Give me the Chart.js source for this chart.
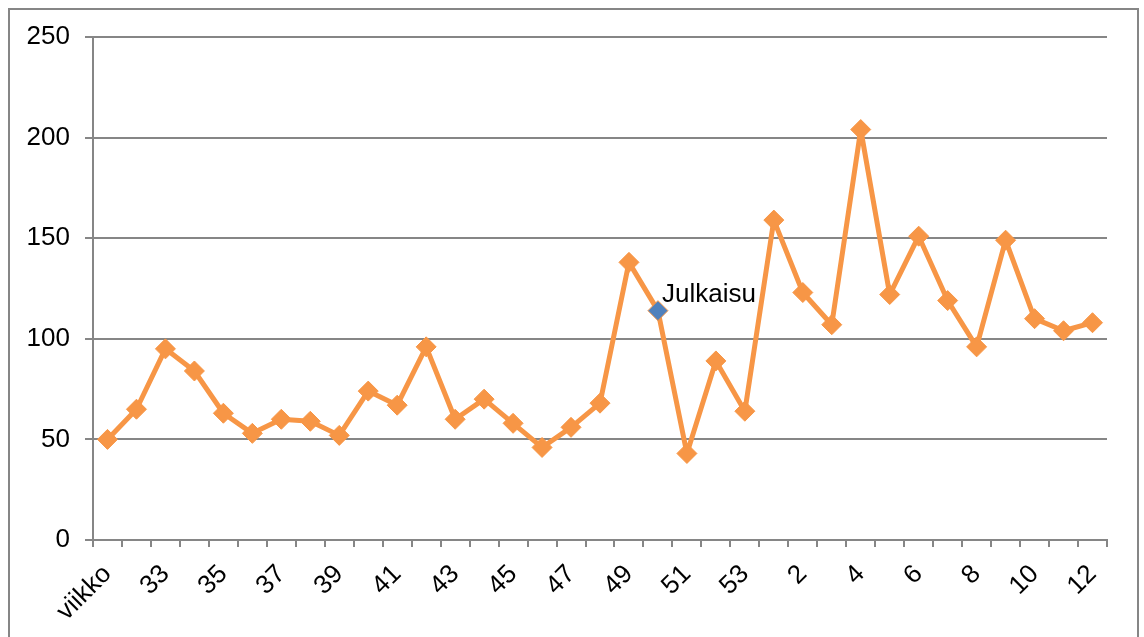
<!DOCTYPE html>
<html>
<head>
<meta charset="utf-8">
<script src="https://cdn.jsdelivr.net/npm/chart.js@4.4.1/dist/chart.umd.min.js"></script>
<style>
  html, body { margin: 0; padding: 0; background: #ffffff; overflow: hidden; }
  #frame { position: absolute; left: 8px; top: 8px; width: 1131px; height: 700px; border: 2px solid #868686; box-sizing: border-box; }
  #wrap { position: absolute; left: 0; top: 0; width: 1144px; height: 637px; }
</style>
</head>
<body>
<div id="frame"></div>
<div id="wrap"><canvas id="c" width="1144" height="637"></canvas></div>
<script>
const categories = ['viikko','32','33','34','35','36','37','38','39','40','41','42','43','44','45','46','47','48','49','50','51','52','53','1','2','3','4','5','6','7','8','9','10','11','12'];
const values = [50,65,95,84,63,53,60,59,52,74,67,96,60,70,58,46,56,68,138,114,43,89,64,159,123,107,204,122,151,119,96,149,110,104,108];
const yTicks = [0,50,100,150,200,250];
const annotationLabel = 'Julkaisu';
const annotationCategory = '50';

const ORANGE = '#F79646';
const BLUE = '#4F81BD';
const GRID = '#868686';
const FONT = '"Liberation Sans", Arial, sans-serif';
const annIndex = categories.indexOf(annotationCategory);

const annotationPlugin = {
  id: 'julkaisu',
  afterDatasetsDraw(chart) {
    const pt = chart.getDatasetMeta(0).data[annIndex];
    if (!pt) return;
    const ctx = chart.ctx;
    ctx.save();
    ctx.font = '26px ' + FONT;
    ctx.fillStyle = '#000000';
    ctx.textAlign = 'left';
    ctx.textBaseline = 'alphabetic';
    ctx.fillText(annotationLabel, pt.x + 4, pt.y - 9);
    ctx.restore();
  }
};

new Chart(document.getElementById('c'), {
  type: 'line',
  data: {
    labels: categories,
    datasets: [{
      data: values,
      borderColor: ORANGE,
      borderWidth: 5,
      borderJoinStyle: 'round',
      pointStyle: 'rectRot',
      pointRadius: 10,
      pointBorderWidth: 1,
      pointBorderColor: ORANGE,
      pointBackgroundColor: (c) => c.dataIndex === annIndex ? BLUE : ORANGE,
      tension: 0
    }]
  },
  options: {
    responsive: false,
    animation: false,
    events: [],
    layout: { padding: { top: 37, right: 37, left: 0, bottom: 0 } },
    plugins: { legend: { display: false }, tooltip: { enabled: false } },
    scales: {
      x: {
        type: 'category',
        offset: true,
        grid: { offset: true, drawOnChartArea: false, drawTicks: true, tickLength: 7, color: GRID, lineWidth: 2 },
        border: { display: true, color: GRID, width: 2 },
        ticks: {
          autoSkip: false,
          minRotation: 45,
          maxRotation: 45,
          padding: 12,
          color: '#000000',
          font: { family: FONT, size: 26 },
          callback: function(v, i) { return i % 2 === 0 ? this.getLabelForValue(v) : ''; }
        },
        afterFit(scale) { scale.height = 97; }
      },
      y: {
        min: 0,
        max: 250,
        afterBuildTicks(scale) { scale.ticks = yTicks.map(v => ({ value: v })); },
        grid: { drawOnChartArea: true, drawTicks: true, tickLength: 8, color: GRID, lineWidth: 2 },
        border: { display: true, color: GRID, width: 2 },
        ticks: {
          padding: 15,
          color: '#000000',
          font: { family: FONT, size: 26 }
        },
        afterFit(scale) { scale.width = 93; }
      }
    }
  },
  plugins: [annotationPlugin]
});
</script>
</body>
</html>
